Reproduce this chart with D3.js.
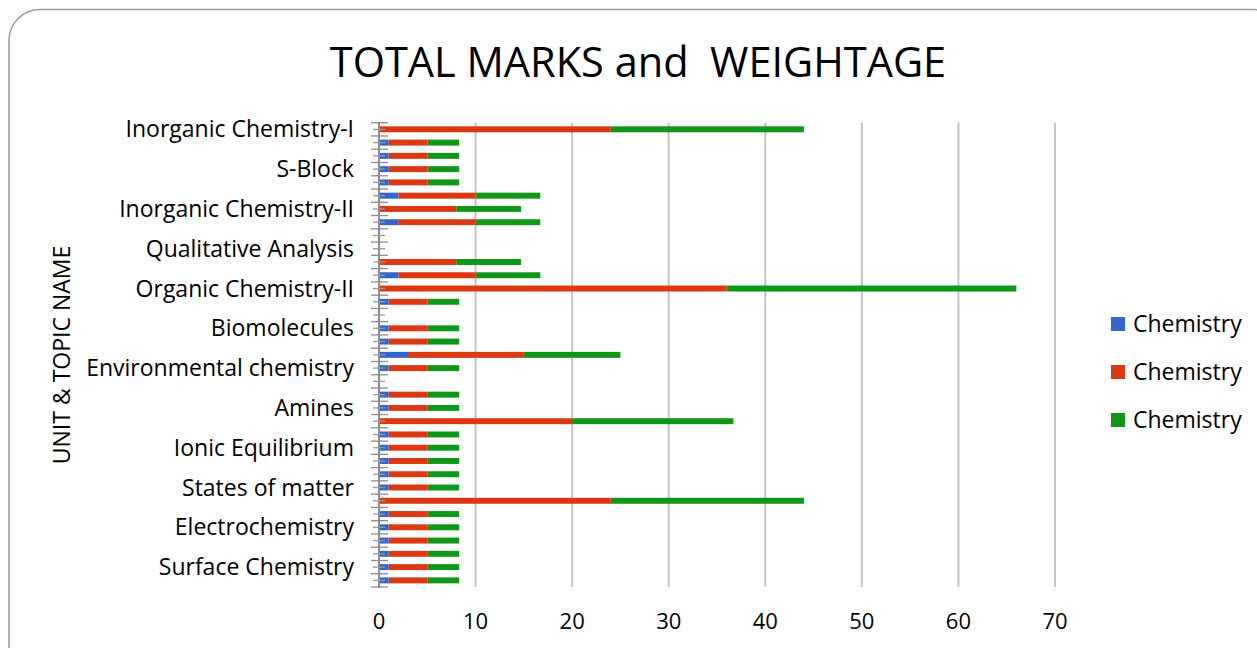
<!DOCTYPE html>
<html lang="en">
<head>
    <meta charset="UTF-8">
    <title>TOTAL MARKS and WEIGHTAGE</title>
    <script src="https://d3js.org/d3.v7.min.js"></script>
    <style>
        body {
            margin: 0;
            background-color: white;
            font-family: "Open Sans", sans-serif;
        }
        svg text {
            fill: #000;
        }
    </style>
</head>
<body>
    <div id="chart"></div>

    <script>
        // rows top to bottom, only every third name is printed on the axis
        const categories = [
            "Inorganic Chemistry-I", "", "",
            "S-Block", "", "",
            "Inorganic Chemistry-II", "", "",
            "Qualitative Analysis", "", "",
            "Organic Chemistry-II", "", "",
            "Biomolecules", "", "",
            "Environmental chemistry", "", "",
            "Amines", "", "",
            "Ionic Equilibrium", "", "",
            "States of matter", "", "",
            "Electrochemistry", "", "",
            "Surface Chemistry", ""
        ];

        const seriesNames = ["Chemistry", "Chemistry", "Chemistry"];
        const seriesColors = ["#3366cc", "#dc3912", "#109618"];

        const blueValues = [
            0, 1, 1, 1, 1, 2, 0, 2, 0, 0, 0, 2,
            0, 1, 0, 1, 1, 3, 1, 0, 1, 1, 0,
            1, 1, 1, 1, 1, 0, 1, 1, 1, 1, 1, 1
        ];
        const redValues = [
            24, 4, 4, 4, 4, 8, 8, 8, 0, 0, 8, 8,
            36, 4, 0, 4, 4, 12, 4, 0, 4, 4, 20,
            4, 4, 4, 4, 4, 24, 4, 4, 4, 4, 4, 4
        ];
        const greenValues = [
            20, 3.3, 3.3, 3.3, 3.3, 6.7, 6.7, 6.7, 0, 0, 6.7, 6.7,
            30, 3.3, 0, 3.3, 3.3, 10, 3.3, 0, 3.3, 3.3, 16.7,
            3.3, 3.3, 3.3, 3.3, 3.3, 20, 3.3, 3.3, 3.3, 3.3, 3.3, 3.3
        ];

        const xTicks = [0, 10, 20, 30, 40, 50, 60, 70];

        const width = 1257;
        const height = 648;
        const plot = { left: 379, right: 1055, top: 122.7, bottom: 587 };

        const svg = d3.select("#chart")
            .append("svg")
            .attr("width", width)
            .attr("height", height);

        // frame with rounded corners, runs off the right and bottom edge
        svg.append("rect")
            .attr("x", 9)
            .attr("y", 9.5)
            .attr("width", 1275)
            .attr("height", 680)
            .attr("rx", 31)
            .attr("fill", "white")
            .attr("stroke", "#9a9a9a")
            .attr("stroke-width", 1.5);

        svg.append("text")
            .attr("x", 638)
            .attr("y", 77)
            .attr("text-anchor", "middle")
            .style("font-size", "41.5px")
            .style("white-space", "pre")
            .text("TOTAL MARKS and  WEIGHTAGE");

        const x = d3.scaleLinear()
            .domain([0, 70])
            .range([plot.left, plot.right]);

        const rows = d3.range(categories.length);
        const y = d3.scaleBand()
            .domain(rows)
            .range([plot.top, plot.bottom])
            .paddingInner(0.55)
            .paddingOuter(0.275);

        // vertical gridlines
        svg.append("g")
            .selectAll("line")
            .data(xTicks.filter(d => d > 0))
            .join("line")
            .attr("x1", d => x(d))
            .attr("x2", d => x(d))
            .attr("y1", plot.top)
            .attr("y2", plot.bottom)
            .attr("stroke", "#c4c4c4")
            .attr("stroke-width", 2);

        // stacked bars
        const table = rows.map(i => ({ row: i, s0: blueValues[i], s1: redValues[i], s2: greenValues[i] }));
        const stacked = d3.stack().keys(["s0", "s1", "s2"])(table);

        svg.append("g")
            .selectAll("g")
            .data(stacked)
            .join("g")
            .attr("fill", (d, i) => seriesColors[i])
            .selectAll("rect")
            .data(d => d.filter(p => p[1] > p[0]))
            .join("rect")
            .attr("x", d => x(d[0]))
            .attr("width", d => x(d[1]) - x(d[0]))
            .attr("y", d => y(d.data.row))
            .attr("height", y.bandwidth());

        // category axis: line, major ticks on boundaries, minor ticks on rows
        const step = y.step();
        svg.append("line")
            .attr("x1", x(0))
            .attr("x2", x(0))
            .attr("y1", plot.top)
            .attr("y2", plot.bottom + 1)
            .attr("stroke", "#8c8c8c")
            .attr("stroke-width", 2);

        svg.append("g")
            .selectAll("line")
            .data(d3.range(categories.length + 1))
            .join("line")
            .attr("x1", x(0) - 8)
            .attr("x2", x(0) + 9)
            .attr("y1", i => plot.top + i * step)
            .attr("y2", i => plot.top + i * step)
            .attr("stroke", "#8c8c8c")
            .attr("stroke-width", 1.3);

        svg.append("g")
            .selectAll("line")
            .data(rows)
            .join("line")
            .attr("x1", x(0) - 6)
            .attr("x2", x(0) + 6)
            .attr("y1", i => y(i) + y.bandwidth() / 2)
            .attr("y2", i => y(i) + y.bandwidth() / 2)
            .attr("stroke", "#999")
            .attr("stroke-width", 1.3);

        svg.append("g")
            .selectAll("text")
            .data(rows.filter(i => categories[i] !== ""))
            .join("text")
            .attr("x", 354)
            .attr("y", i => y(i) + y.bandwidth() / 2)
            .attr("dy", "0.35em")
            .attr("text-anchor", "end")
            .style("font-size", "23px")
            .text(i => categories[i]);

        // value axis labels
        svg.append("g")
            .selectAll("text")
            .data(xTicks)
            .join("text")
            .attr("x", d => x(d))
            .attr("y", 629)
            .attr("text-anchor", "middle")
            .style("font-size", "22px")
            .text(d => d);

        svg.append("text")
            .attr("transform", "translate(70,355) rotate(-90)")
            .attr("text-anchor", "middle")
            .style("font-size", "23px")
            .text("UNIT & TOPIC NAME");

        // legend
        const legend = svg.append("g")
            .selectAll("g")
            .data(seriesNames)
            .join("g")
            .attr("transform", (d, i) => `translate(1111,${324 + i * 48})`);

        legend.append("rect")
            .attr("x", 0)
            .attr("y", -7)
            .attr("width", 14)
            .attr("height", 14)
            .attr("fill", (d, i) => seriesColors[i]);

        legend.append("text")
            .attr("x", 22)
            .attr("dy", "0.35em")
            .style("font-size", "23px")
            .text(d => d);
    </script>
</body>
</html>
